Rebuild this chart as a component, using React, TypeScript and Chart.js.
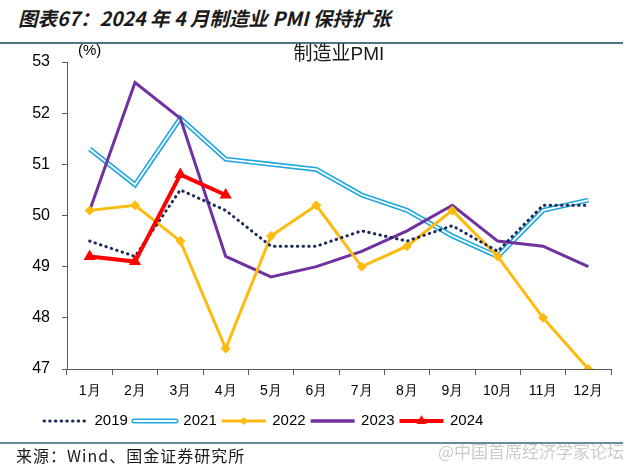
import React, { useEffect, useRef } from 'react';
import { Chart, registerables } from 'chart.js';

Chart.register(...registerables);

const months = ['1月', '2月', '3月', '4月', '5月', '6月', '7月', '8月', '9月', '10月', '11月', '12月'];
const pmi2019 = [49.5, 49.2, 50.5, 50.1, 49.4, 49.4, 49.7, 49.5, 49.8, 49.3, 50.2, 50.2];
const pmi2021 = [51.3, 50.6, 51.9, 51.1, 51.0, 50.9, 50.4, 50.1, 49.6, 49.2, 50.1, 50.3];
const pmi2022 = [50.1, 50.2, 49.5, 47.4, 49.6, 50.2, 49.0, 49.4, 50.1, 49.2, 48.0, 47.0];
const pmi2023 = [50.1, 52.6, 51.9, 49.2, 48.8, 49.0, 49.3, 49.7, 50.2, 49.5, 49.4, 49.0];
const pmi2024 = [49.2, 49.1, 50.8, 50.4];
const seriesNames = ['2019', '2021', '2022', '2023', '2024'];
const yMin = 47;
const yMax = 53;
const yStep = 1;

const C2019 = '#1f2a5c';
const C2021 = '#1ea7e1';
const C2022 = '#fdbb10';
const C2023 = '#7030a0';
const C2024 = '#ff0000';
const AXIS = '#595959';
const FONT = '"Liberation Sans", Arial, sans-serif';
const CJK = '"Noto Sans CJK SC", sans-serif';

function makeImg(draw: (ctx: CanvasRenderingContext2D) => void): HTMLCanvasElement {
  const c = document.createElement('canvas');
  c.width = 48;
  c.height = 14;
  const ctx = c.getContext('2d')!;
  draw(ctx);
  return c;
}

function line(ctx: CanvasRenderingContext2D, color: string, w: number, x0 = 2, x1 = 46) {
  ctx.beginPath();
  ctx.strokeStyle = color;
  ctx.lineWidth = w;
  ctx.moveTo(x0, 7);
  ctx.lineTo(x1, 7);
  ctx.stroke();
}

const legendShift = {
  id: 'legendShift',
  afterLayout(chart: any) {
    if (chart.legend) chart.legend.left = 39;
  },
};

export default function App() {
  const ref = useRef<HTMLCanvasElement>(null);

  useEffect(() => {
    if (!ref.current) return;
    const imgs = [
      makeImg((ctx) => {
        ctx.lineCap = 'round';
        ctx.setLineDash([0.5, 5.2]);
        line(ctx, C2019, 3);
      }),
      makeImg((ctx) => {
        ctx.lineCap = 'round';
        line(ctx, C2021, 5, 3, 45);
        line(ctx, '#ffffff', 2, 3, 45);
      }),
      makeImg((ctx) => {
        line(ctx, C2022, 3);
        ctx.fillStyle = C2022;
        ctx.beginPath();
        ctx.moveTo(24, 3);
        ctx.lineTo(28, 7);
        ctx.lineTo(24, 11);
        ctx.lineTo(20, 7);
        ctx.closePath();
        ctx.fill();
      }),
      makeImg((ctx) => {
        line(ctx, C2023, 3.5);
      }),
      makeImg((ctx) => {
        line(ctx, C2024, 4);
        ctx.fillStyle = C2024;
        ctx.beginPath();
        ctx.moveTo(24, 1);
        ctx.lineTo(29, 10);
        ctx.lineTo(19, 10);
        ctx.closePath();
        ctx.fill();
      }),
    ];

    const chart = new Chart(ref.current, {
      type: 'line',
      data: {
        labels: months,
        datasets: [
          {
            label: seriesNames[0],
            data: pmi2019,
            borderColor: C2019,
            borderWidth: 3,
            borderDash: [0.5, 5.2],
            borderCapStyle: 'round',
            pointRadius: 0,
            order: 1,
          },
          {
            label: seriesNames[1],
            data: pmi2021,
            borderColor: C2021,
            borderWidth: 5,
            pointRadius: 0,
            order: 5,
          },
          {
            label: seriesNames[2],
            data: pmi2022,
            borderColor: C2022,
            backgroundColor: C2022,
            borderWidth: 3,
            pointStyle: 'rectRot',
            pointRadius: 5,
            pointBorderWidth: 0,
            order: 2,
          },
          {
            label: seriesNames[3],
            data: pmi2023,
            borderColor: C2023,
            borderWidth: 3,
            pointRadius: 0,
            order: 3,
          },
          {
            label: seriesNames[4],
            data: pmi2024,
            borderColor: C2024,
            backgroundColor: C2024,
            borderWidth: 4,
            pointStyle: 'triangle',
            pointRadius: 7,
            pointBorderWidth: 0,
            order: 0,
          },
          {
            label: '_inner2021',
            data: pmi2021,
            borderColor: '#ffffff',
            borderWidth: 1.8,
            pointRadius: 0,
            order: 4,
          },
        ],
      } as any,
      options: {
        responsive: false,
        animation: false,
        layout: { padding: { left: 10, right: 29, top: 62, bottom: 35.5 } },
        plugins: {
          tooltip: { enabled: false },
          legend: {
            position: 'bottom',
            align: 'start',
            labels: {
              usePointStyle: true,
              pointStyleWidth: 42,
              boxHeight: 14,
              padding: 6,
              color: '#000',
              font: { family: FONT, size: 15 },
              generateLabels: (ch: any) =>
                ch.data.datasets
                  .map((ds: any, i: number) => ({
                    text: ds.label,
                    pointStyle: imgs[i],
                    fillStyle: 'transparent',
                    strokeStyle: 'transparent',
                    lineWidth: 0,
                    hidden: false,
                    datasetIndex: i,
                    fontColor: '#000',
                  }))
                  .filter((it: any) => !String(it.text).startsWith('_')),
            },
          },
        },
        scales: {
          x: {
            offset: true,
            grid: {
              offset: true,
              drawOnChartArea: false,
              drawTicks: true,
              tickLength: 6,
              color: AXIS,
              lineWidth: 1,
            },
            border: { display: true, color: AXIS, width: 1 },
            ticks: {
              color: '#000',
              font: { family: FONT, size: 14 },
              padding: 8,
              maxRotation: 0,
              autoSkip: false,
            },
            afterFit: (s: any) => {
              s.height = 38.5;
            },
          },
          y: {
            min: yMin,
            max: yMax,
            grid: {
              drawOnChartArea: false,
              drawTicks: true,
              tickLength: 5,
              color: AXIS,
              lineWidth: 1,
            },
            border: { display: true, color: AXIS, width: 1 },
            ticks: {
              stepSize: yStep,
              color: '#000',
              font: { family: FONT, size: 16 },
              padding: 12,
            },
            afterFit: (s: any) => {
              s.width = 57;
            },
          },
        },
      } as any,
      plugins: [legendShift],
    });
    return () => chart.destroy();
  }, []);

  return (
    <div style={{ position: 'fixed', left: 0, top: 0, width: 640, height: 474, background: '#fff', overflow: 'hidden' }}>
      <div
        style={{
          position: 'absolute',
          left: 18,
          top: 3,
          font: `italic bold 19.5px ${CJK}`,
          color: '#1a1a1a',
          whiteSpace: 'nowrap',
          lineHeight: '30px',
        }}
      >
        图表67：2024 年 4 月制造业 PMI 保持扩张
      </div>
      <div style={{ position: 'absolute', left: 0, top: 42, width: 623, height: 1.5, background: '#4f7384' }} />
      <canvas ref={ref} width={640} height={474} style={{ position: 'absolute', left: 0, top: 0 }} />
      <div
        style={{
          position: 'absolute',
          left: 78,
          top: 40,
          font: `15px ${FONT}`,
          color: '#000',
          lineHeight: '20px',
        }}
      >
        (%)
      </div>
      <div
        style={{
          position: 'absolute',
          left: 239,
          width: 200,
          textAlign: 'center',
          top: 40,
          font: `19px ${CJK}`,
          color: '#1a1a1a',
          lineHeight: '24px',
        }}
      >
        制造业<span style={{ fontFamily: FONT }}>PMI</span>
      </div>
      <div style={{ position: 'absolute', left: 0, top: 442, width: 623, height: 1.5, background: '#6a8a99' }} />
      <div
        style={{
          position: 'absolute',
          left: 16,
          top: 444,
          font: `16px ${CJK}`,
          letterSpacing: '1px',
          color: '#1a1a1a',
          lineHeight: '22px',
          whiteSpace: 'nowrap',
        }}
      >
        来源：Wind、国金证券研究所
      </div>
      <div
        style={{
          position: 'absolute',
          left: 438,
          top: 440,
          font: `17px ${CJK}`,
          color: 'rgba(160,160,160,0.55)',
          lineHeight: '22px',
          whiteSpace: 'nowrap',
        }}
      >
        @中国首席经济学家论坛
      </div>
    </div>
  );
}
